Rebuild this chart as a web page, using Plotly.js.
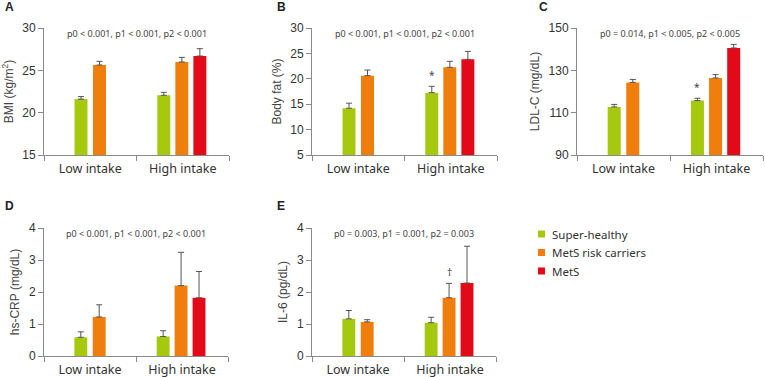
<!DOCTYPE html>
<html>
<head>
<meta charset="utf-8">
<script src="https://cdn.plot.ly/plotly-3.0.1.min.js"></script>
<style>html,body{margin:0;padding:0;background:#fff;}#chart{width:765px;height:377px;}</style>
</head>
<body>
<div id="chart"></div>
<script>
// ---------- DATA ----------
const categories = ['Low intake', 'High intake'];
const groupNames = ['Super-healthy', 'MetS risk carriers', 'MetS'];
const groupColors = ['#A6C80F', '#EF7E0C', '#E20A19'];

// A: BMI (kg/m2)
const bmiSuper = [21.6, 22.05],  bmiSuperErr = [0.3, 0.35];
const bmiRisk  = [25.63, 25.98], bmiRiskErr  = [0.43, 0.55];
const bmiMets  = [null, 26.69],  bmiMetsErr  = [0, 0.87];
// B: Body fat (%)
const fatSuper = [14.2, 17.27],  fatSuperErr = [1.0, 1.25];
const fatRisk  = [20.62, 22.26], fatRiskErr  = [1.1, 1.18];
const fatMets  = [null, 23.83],  fatMetsErr  = [0, 1.57];
// C: LDL-C (mg/dL)
const ldlSuper = [112.7, 115.7], ldlSuperErr = [1.2, 1.1];
const ldlRisk  = [124.3, 126.4], ldlRiskErr  = [1.4, 1.55];
const ldlMets  = [null, 140.55], ldlMetsErr  = [0, 1.7];
// D: hs-CRP (mg/dL)
const crpSuper = [0.585, 0.61],  crpSuperErr = [0.17, 0.18];
const crpRisk  = [1.22, 2.2],    crpRiskErr  = [0.38, 1.04];
const crpMets  = [null, 1.82],   crpMetsErr  = [0, 0.82];
// E: IL-6 (pg/dL)
const il6Super = [1.16, 1.04],   il6SuperErr = [0.26, 0.17];
const il6Risk  = [1.065, 1.82],  il6RiskErr  = [0.07, 0.45];
const il6Mets  = [null, 2.28],   il6MetsErr  = [0, 1.15];

const panelLetters = ['A', 'B', 'C', 'D', 'E'];
const yTitles = ['BMI (kg/m<sup>2</sup>)', 'Body fat (%)', 'LDL-C (mg/dL)', 'hs-CRP (mg/dL)', 'IL-6 (pg/dL)'];
const pTexts = [
  'p0 &lt; 0.001, p1 &lt; 0.001, p2 &lt; 0.001',
  'p0 &lt; 0.001, p1 &lt; 0.001, p2 &lt; 0.001',
  'p0 = 0.014, p1 &lt; 0.005, p2 &lt; 0.005',
  'p0 &lt; 0.001, p1 &lt; 0.001, p2 &lt; 0.001',
  'p0 = 0.003, p1 = 0.001, p2 = 0.003'
];
const yRanges = [[15, 30], [5, 30], [90, 150], [0, 4], [0, 4]];
const yDticks = [5, 5, 20, 1, 1];

// ---------- LAYOUT GEOMETRY (pixels) ----------
const W = 765, H = 377;
const panelBoxes = [ // [left, right, top, bottom]
  [44, 229, 28, 155],
  [312, 497, 28, 155],
  [577, 763, 28, 155],
  [44, 228, 228, 356],
  [312, 496, 228, 356]
];
const letterPos = [[3, 7], [275, 7], [537, 7], [3, 206], [275, 206]];
// bar centre offsets (category units) per group, for [low, high]
const barCenters = [[-0.1, -0.205], [0.1, -0.01], [null, 0.185]];
const barWidth = 0.14;

const seriesByPanel = [
  [[bmiSuper, bmiSuperErr], [bmiRisk, bmiRiskErr], [bmiMets, bmiMetsErr]],
  [[fatSuper, fatSuperErr], [fatRisk, fatRiskErr], [fatMets, fatMetsErr]],
  [[ldlSuper, ldlSuperErr], [ldlRisk, ldlRiskErr], [ldlMets, ldlMetsErr]],
  [[crpSuper, crpSuperErr], [crpRisk, crpRiskErr], [crpMets, crpMetsErr]],
  [[il6Super, il6SuperErr], [il6Risk, il6RiskErr], [il6Mets, il6MetsErr]]
];
// significance marks: [panel, group, category index, symbol]
const marks = [[1, 0, 1, '*'], [2, 0, 1, '*'], [4, 1, 1, '\u2020']];

const axisFont = {family: 'Liberation Sans, Arial, sans-serif', size: 12, color: '#333'};
const catFont = {family: 'Noto Sans, sans-serif', size: 12.5, color: '#333'};

const traces = [];
const layout = {
  width: W, height: H,
  margin: {l: 0, r: 0, t: 0, b: 0},
  paper_bgcolor: '#fff', plot_bgcolor: '#fff',
  showlegend: false,
  barmode: 'overlay',
  annotations: [],
  shapes: []
};

panelBoxes.forEach((box, p) => {
  const n = p + 1;
  const xa = 'x' + (n === 1 ? '' : n), ya = 'y' + (n === 1 ? '' : n);
  const xk = 'xaxis' + (n === 1 ? '' : n), yk = 'yaxis' + (n === 1 ? '' : n);
  layout[xk] = {
    domain: [box[0] / W, box[1] / W], anchor: ya,
    type: 'category', range: [-0.5, 1.5],
    showline: true, linecolor: '#8a8a8a', linewidth: 1,
    ticks: 'outside', tickson: 'boundaries', ticklen: 5, tickcolor: '#8a8a8a',
    ticklabelstandoff: 2,
    tickfont: catFont, showgrid: false, zeroline: false, fixedrange: true
  };
  layout[yk] = {
    domain: [1 - box[3] / H, 1 - box[2] / H], anchor: xa,
    range: yRanges[p], dtick: yDticks[p], tick0: yRanges[p][0],
    showline: true, linecolor: '#8a8a8a', linewidth: 1,
    ticks: 'outside', ticklen: 5, tickcolor: '#8a8a8a',
    tickfont: axisFont, showgrid: false, zeroline: false, fixedrange: true,
    title: {text: yTitles[p], font: {family: 'Liberation Sans, Arial, sans-serif', size: 12, color: '#444'}, standoff: 6},
    automargin: false
  };
  seriesByPanel[p].forEach((s, g) => {
    traces.push({
      type: 'bar', xaxis: xa, yaxis: ya,
      x: categories, y: s[0], name: groupNames[g],
      width: [barWidth, barWidth],
      offset: barCenters[g].map(c => c === null ? 0 : c - barWidth / 2),
      marker: {color: groupColors[g], line: {width: 0}},
      error_y: {type: 'data', symmetric: false, array: s[1], arrayminus: s[1].map(() => 0),
                color: '#555', thickness: 1, width: 3},
      hoverinfo: 'skip'
    });
  });
  layout.annotations.push({
    xref: xa + ' domain', yref: ya + ' domain', x: 0.5, y: 0.955,
    xanchor: 'center', yanchor: 'middle', showarrow: false,
    text: pTexts[p], font: {family: 'Noto Sans, sans-serif', size: 9, color: '#444'}
  });
  layout.annotations.push({
    xref: 'paper', yref: 'paper', x: letterPos[p][0] / W, y: 1 - letterPos[p][1] / H,
    xanchor: 'left', yanchor: 'middle', showarrow: false,
    text: '<b>' + panelLetters[p] + '</b>', font: {family: 'Liberation Sans, Arial, sans-serif', size: 12, color: '#222'}
  });
});

marks.forEach(m => {
  const [p, g, c, sym] = m;
  const n = p + 1;
  const box = panelBoxes[p];
  const pxPerUnit = (box[1] - box[0]) / 2;
  const s = seriesByPanel[p][g];
  layout.annotations.push({
    xref: 'x' + n, yref: 'y' + n, x: categories[c], y: s[0][c] + s[1][c],
    xshift: barCenters[g][c] * pxPerUnit, yshift: 2,
    xanchor: 'center', yanchor: 'bottom', showarrow: false,
    text: sym, font: {family: 'Noto Sans, sans-serif', size: 10, color: '#444'}
  });
});

// legend (built from group names / colours)
const legX = 550, legY0 = 234, legDy = 18.5;
groupNames.forEach((name, g) => {
  const cy = legY0 + g * legDy;
  layout.shapes.push({
    type: 'rect', xref: 'paper', yref: 'paper',
    x0: (legX - 12) / W, x1: (legX - 5) / W, y0: 1 - (cy + 3.5) / H, y1: 1 - (cy - 3.5) / H,
    fillcolor: groupColors[g], line: {width: 0}
  });
  layout.annotations.push({
    xref: 'paper', yref: 'paper', x: legX / W, y: 1 - cy / H,
    xanchor: 'left', yanchor: 'middle', showarrow: false,
    text: name, font: {family: 'Noto Sans, sans-serif', size: 11.5, color: '#333'}
  });
});

Plotly.newPlot('chart', traces, layout, {displayModeBar: false, staticPlot: true});
</script>
</body>
</html>
